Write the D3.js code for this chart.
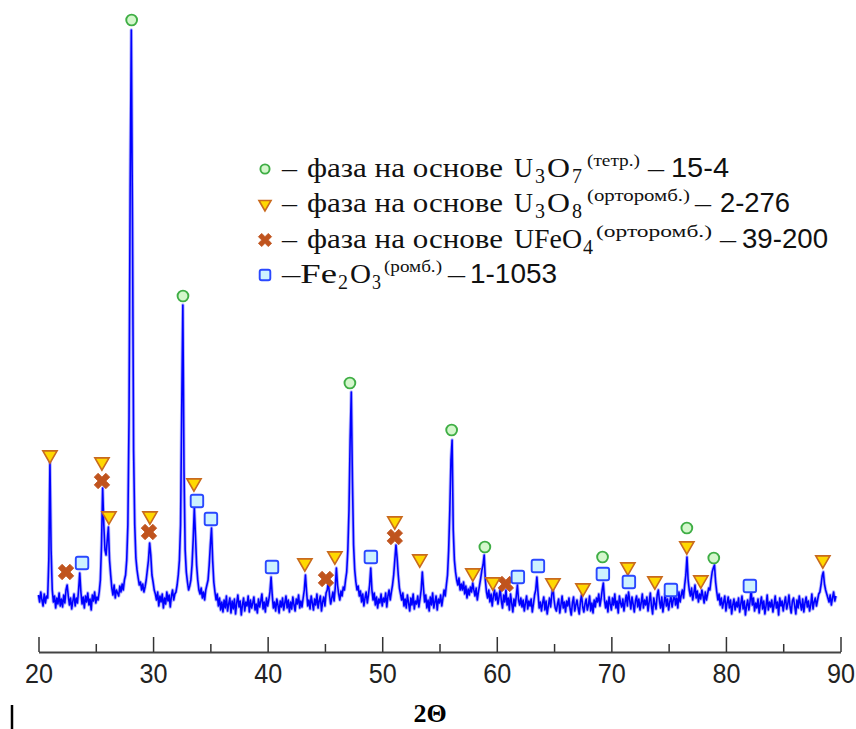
<!DOCTYPE html>
<html><head><meta charset="utf-8">
<script src="https://cdn.jsdelivr.net/npm/d3@7"></script>
<style>body{margin:0;background:#fff}svg{display:block}</style>
</head><body><svg id="c" width="856" height="729"></svg>
<script>
// ---- data ----
const angleStart = 20, angleStep = 0.1;
const intensity = [
 25,18,28,20,14,26,17,24,22,60,
 158,70,30,18,24,12,22,16,27,14,
 21,13,25,17,30,35,24,15,22,11,
 19,26,14,22,17,30,47,28,16,23,
 12,24,18,27,15,21,10,25,19,28,
 17,23,20,28,40,75,132,95,70,65,
 80,93,60,45,32,25,35,22,30,27,
 24,34,28,36,30,40,45,60,95,200,
 430,590,400,170,95,62,50,42,35,38,
 30,36,28,33,40,50,60,77,65,45,
 38,30,26,20,28,14,24,18,26,12,
 22,16,28,19,25,13,24,30,20,26,
 28,35,45,60,95,210,315,150,70,48,
 38,30,34,40,55,80,112,85,55,40,
 30,26,32,22,28,20,30,35,40,55,
 75,92,60,38,28,20,26,14,22,10,
 18,8,20,12,24,9,16,22,7,19,
 11,21,6,17,25,13,19,5,15,22,
 9,18,14,24,8,20,12,17,23,10,
 16,7,21,13,19,26,11,18,8,22,
 14,20,28,43,25,12,18,9,21,15,
 7,19,13,22,10,17,24,12,20,8,
 18,11,23,15,9,21,16,25,12,19,
 13,22,30,45,28,14,20,11,24,17,
 10,21,15,26,12,19,24,9,18,23,
 14,27,30,38,25,16,22,28,19,32,
 52,35,26,20,29,24,33,30,40,48,
 70,110,180,228,140,75,50,38,30,34,
 24,29,18,26,14,22,28,17,25,35,
 52,30,20,27,15,23,12,21,17,26,
 14,22,18,27,13,24,30,20,28,35,
 45,60,75,62,45,32,26,20,27,14,
 21,12,25,17,9,22,15,26,11,19,
 16,24,13,21,30,48,32,18,25,12,
 20,9,23,15,27,12,18,24,10,21,
 17,25,14,22,30,24,35,45,70,110,
 160,180,90,60,48,40,35,42,30,36,
 30,38,26,34,22,31,25,33,28,37,
 30,24,32,20,28,35,42,50,55,65,
 40,28,22,30,18,26,14,24,30,20,
 27,16,23,31,19,12,25,18,30,15,
 22,10,26,17,8,21,14,24,35,20,
 15,22,13,20,9,17,24,11,19,14,
 21,8,16,25,30,43,27,12,18,9,
 17,23,10,19,6,14,22,13,25,33,
 20,12,9,16,21,7,15,24,12,18,
 8,19,14,22,11,5,17,23,9,15,
 20,12,6,18,25,13,8,16,21,10,
 15,24,9,17,7,20,13,22,18,26,
 14,21,30,37,20,12,19,8,23,16,
 10,22,15,26,12,19,7,24,17,13,
 21,9,18,25,14,28,20,11,23,16,
 8,19,24,13,21,10,17,26,12,20,
 15,23,9,18,27,14,6,22,16,11,
 25,30,19,12,23,8,17,26,14,21,
 10,18,24,13,20,26,15,22,12,28,
 18,25,30,22,35,45,63,40,30,24,
 32,20,27,35,22,29,18,26,21,30,
 24,17,28,20,26,32,30,40,48,52,
 55,38,28,20,26,15,22,12,18,24,
 9,17,23,12,20,6,15,21,10,18,
 13,22,8,16,24,11,19,5,14,20,
 10,18,30,15,22,9,17,12,21,7,
 16,23,11,19,6,14,25,10,18,13,
 20,8,15,24,12,18,5,22,14,19,
 9,17,23,11,16,25,13,7,19,22,
 14,6,20,12,24,16,10,21,8,17,
 23,13,19,9,15,26,11,18,22,14,
 20,26,28,35,44,48,36,30,26,22,
 18,25,15,22,28,19,24
];

// phase markers: [2Θ, marker level]
const phaseU3O7 = [[28.13,600],[32.61,324],[47.18,237],[56.06,190],[58.96,73],[69.23,63],[76.59,92],[78.94,62]];
const phaseU3O8 = [[21.0,165],[25.54,158],[26.15,104],[29.73,104],[33.57,137],[43.25,57],[45.87,64],[51.1,99],[53.28,61],[57.91,47],[59.66,38],[64.9,37],[67.52,32],[71.44,53],[73.8,39],[76.59,74],[77.81,40],[88.46,60]];
const phaseUFeO4 = [[22.4,48],[25.54,139],[29.64,88],[45.09,41],[51.1,83],[60.79,36]];
const phaseFe2O3 = [[23.8,57],[33.83,119],[35.05,101],[40.38,53],[49.01,63],[61.84,43],[63.59,54],[69.26,46],[71.53,38],[75.2,30],[82.09,34]];

const majorTicks = [20,30,40,50,60,70,80,90];
const minorTicks = [25,35,45,55,65,75,85];
const xTitle = "2Θ";

const legendTexts = [
  ["–","фаза на основе","U","3","O","7","(тетр.)","–","15-4"],
  ["–","фаза на основе","U","3","O","8","(орторомб.)","–","2-276"],
  ["–","фаза на основе","UFeO","4","(орторомб.)","–","39-200"],
  ["–Fe","2","O","3","(ромб.)","–","1-1053"]
];

// ---- drawing ----
const svg = d3.select("#c");
svg.append("rect").attr("width",856).attr("height",729).attr("fill","#fff");

const x = d3.scaleLinear().domain([20,90]).range([38.5,840.5]);
const y = d3.scaleLinear().domain([0,620]).range([620,0]);

const line = d3.line()
  .x((d,i)=>x(angleStart + i*angleStep))
  .y(d=>y(d));

svg.append("path").datum(intensity)
  .attr("d", line)
  .attr("fill","none")
  .attr("stroke","#5a5aff")
  .attr("stroke-opacity",0.45)
  .attr("stroke-width",3.4)
  .attr("stroke-linejoin","round");
svg.append("path").datum(intensity)
  .attr("d", line)
  .attr("fill","none")
  .attr("stroke","#0000ff")
  .attr("stroke-width",1.6)
  .attr("stroke-linejoin","round");

function marker(g, type, cx, cy, s){
  if(type==="circle"){
    g.append("circle").attr("cx",cx).attr("cy",cy).attr("r",5.4*s)
      .attr("fill","#d4f7cc").attr("stroke","#3fae45").attr("stroke-width",1.9);
  } else if(type==="tri"){
    g.append("path").attr("d", d3.symbol(d3.symbolTriangle, 88*s*s)())
      .attr("transform",`translate(${cx},${cy}) rotate(180)`)
      .attr("fill","#ffd800").attr("stroke","#c96a1e").attr("stroke-width",1.6);
  } else if(type==="cross"){
    g.append("path").attr("d", d3.symbol(d3.symbolCross, 150*s*s)())
      .attr("transform",`translate(${cx},${cy}) rotate(45)`)
      .attr("fill","#c0541e").attr("stroke","#c0541e").attr("stroke-width",0.8)
      .attr("stroke-linejoin","round");
  } else {
    const w = 12.5*s;
    g.append("rect").attr("x",cx-w/2).attr("y",cy-w/2).attr("width",w).attr("height",w)
      .attr("rx",2).attr("fill","#cdf2ff").attr("stroke","#2a48ff").attr("stroke-width",1.9);
  }
}

const mg = svg.append("g");
phaseUFeO4.forEach(d=>marker(mg,"cross",x(d[0]),y(d[1]),1));
phaseU3O8.forEach(d=>marker(mg,"tri",x(d[0]),y(d[1]),1));
phaseFe2O3.forEach(d=>marker(mg,"square",x(d[0]),y(d[1]),1));
phaseU3O7.forEach(d=>marker(mg,"circle",x(d[0]),y(d[1]),1));

// axis
const axisY = 652;
const gMinor = svg.append("g").attr("transform",`translate(0,${axisY})`)
  .call(d3.axisBottom(x).tickValues(minorTicks).tickSizeInner(-8).tickSizeOuter(0).tickFormat(""));
gMinor.select(".domain").remove();
gMinor.selectAll("line").attr("stroke","#333").attr("stroke-width",1.5);

const gMajor = svg.append("g").attr("transform",`translate(0,${axisY})`)
  .call(d3.axisBottom(x).tickValues(majorTicks).tickSizeInner(-15).tickSizeOuter(0).tickPadding(11));
gMajor.select(".domain").attr("stroke","#444").attr("stroke-width",2.2);
gMajor.selectAll(".tick line").attr("stroke","#333").attr("stroke-width",1.5);
gMajor.selectAll(".tick text")
  .attr("font-family","'Liberation Sans', Arial, sans-serif")
  .attr("font-size",28).attr("fill","#222")
  .attr("textLength",28).attr("lengthAdjust","spacingAndGlyphs");

svg.append("text").attr("x",430).attr("y",722).attr("text-anchor","middle")
  .attr("font-family","'Liberation Serif', 'Times New Roman', serif")
  .attr("font-weight","bold").attr("font-size",26).attr("fill","#000")
  .text(xTitle);

svg.append("line").attr("x1",12).attr("x2",12).attr("y1",705).attr("y2",729)
  .attr("stroke","#000").attr("stroke-width",2.5);

// legend
const legendTypes = ["circle","tri","cross","square"];
const legendBase = [177,212,248,283];
const kinds = [
  ["main","main","main","sub","main","sub","sup","main","num"],
  ["main","main","main","sub","main","sub","sup","main","num"],
  ["main","main","main","sub","sup","main","num"],
  ["main","sub","main","sub","sup","main","num"]
];
const spans = [
  [[282,297],[307,503],[514,533],[535,545],[547,570],[572,582],[587,640],[648,664],[671,729]],
  [[282,297],[307,503],[514,533],[535,545],[547,570],[572,582],[587,690],[695,711],[720,790]],
  [[282,297],[307,503],[514,582],[583,593],[596,712],[720,736],[742,828]],
  [[282,337],[338,348],[350,371],[372,381],[384,442],[448,465],[470,557]]
];
const kindStyle = {
  main:{ff:"'Liberation Serif', 'Times New Roman', serif", fs:28, dy:0},
  sub:{ff:"'Liberation Serif', 'Times New Roman', serif", fs:20, dy:6},
  sup:{ff:"'Liberation Serif', 'Times New Roman', serif", fs:17, dy:-11},
  num:{ff:"'Liberation Sans', Arial, sans-serif", fs:28, dy:0}
};
const lg = svg.append("g");
legendTexts.forEach((row,r)=>{
  const b = legendBase[r];
  marker(lg, legendTypes[r], 265, b-8, 0.85);
  row.forEach((t,k)=>{
    const st = kindStyle[kinds[r][k]];
    const sp = spans[r][k];
    lg.append("text").attr("x",sp[0]).attr("y",b+st.dy)
      .attr("font-family",st.ff).attr("font-size",st.fs).attr("fill","#111")
      .attr("textLength",sp[1]-sp[0]).attr("lengthAdjust","spacingAndGlyphs")
      .text(t);
  });
});
</script>
</body></html>
